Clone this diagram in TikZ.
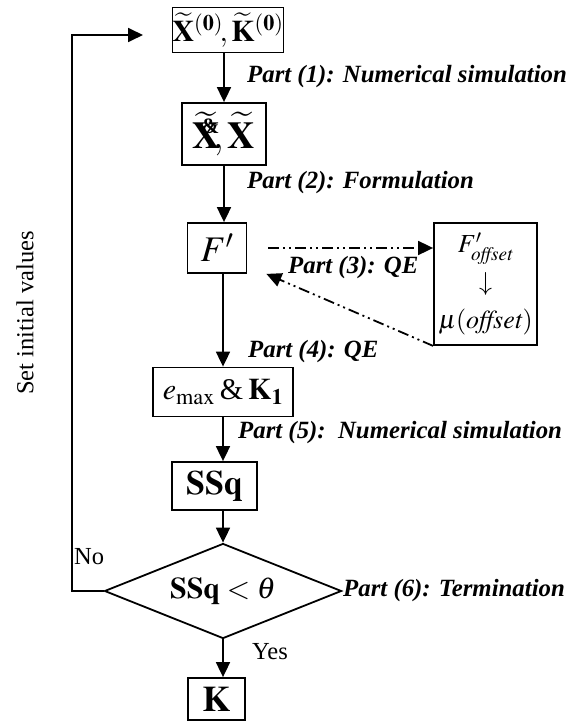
\documentclass[tikz,border=0pt]{standalone}
\usepackage{amsmath,mathptmx}
\usepackage{fontspec}
\setmainfont{Liberation Serif}
\usepackage{tikz}
\usetikzlibrary{arrows.meta,shapes.geometric}

\begin{document}
\begin{tikzpicture}[x=1pt,y=-1pt,
  box/.style={draw,line width=1.8pt,inner sep=0pt},
  flow/.style={line width=1.8pt,-{Triangle[length=15pt,width=14pt]}},
  dashdot/.style={line width=1.8pt,dash pattern=on 11pt off 4pt on 2pt off 4pt on 2pt off 4pt,-{Triangle[length=15pt,width=14pt]}},
  part/.style={anchor=west,inner sep=0pt,font=\fontsize{24.8}{28}\selectfont\bfseries\itshape},
  plain/.style={anchor=west,inner sep=0pt,font=\fontsize{24.5}{28}\selectfont}]
\useasboundingbox (0,0) rectangle (574,722);
% boxes of the flow
\node[box,minimum width=109,minimum height=45,font=\fontsize{30}{34}\selectfont] (init) at (228,30) {$\widetilde{\mathbf{X}}^{\mathbf{(0)}}\!,\widetilde{\mathbf{K}}^{\mathbf{(0)}}$};
\node[box,minimum width=84,minimum height=62,font=\fontsize{38}{42}\selectfont] (sim) at (224,134) {$\widetilde{\mathbf{X}}\mkern-9mu\raisebox{0.4em}{\fontsize{22}{22}\selectfont\bfseries\&}\mkern-3mu,\widetilde{\mathbf{X}}$};
\node[box,minimum width=59,minimum height=50,font=\fontsize{36}{40}\selectfont] (fp) at (217,248) {$F'$};
\node[box,minimum width=103,minimum height=122,align=center,font=\fontsize{26}{38}\selectfont] (off) at (485.5,284) {$F'_{\mathit{offset}}$\\$\downarrow$\\$\mu(\mathit{offset})$};
\node[box,minimum width=140,minimum height=49,font=\fontsize{30}{34}\selectfont] (emax) at (223,392) {$e_{\max}$\,\&\,$\mathbf{K}_{\mathbf{1}}$};
\node[box,minimum width=85,minimum height=48,font=\fontsize{34}{38}\selectfont] (ssq) at (214.5,486) {$\mathbf{SSq}$};
\node[draw,line width=1.8pt,diamond,aspect=2.5,inner sep=0pt,minimum width=237,minimum height=95,font=\fontsize{30}{34}\selectfont] (dec) at (223,591) {$\mathbf{SSq}<\theta$};
\node[box,minimum width=57,minimum height=42,font=\fontsize{36}{40}\selectfont] (res) at (216.5,699) {$\mathbf{K}$};
\coordinate (loopx) at (72,0);
\coordinate (entry) at (143,35);
% connectors
\draw[flow] (init.south -| sim.north) -- (sim.north);
\draw[flow] (sim.south) -- (sim.south |- fp.north);
\draw[flow] (fp.south -| emax.north) -- (emax.north);
\draw[flow] (emax.south) -- (emax.south |- ssq.north);
\draw[flow] (ssq.south -| dec.north) -- (dec.north);
\draw[flow] (dec.south) -- (dec.south |- res.north);
\draw[dashdot] ([xshift=21pt]fp.east) -- (fp.east -| off.west);
\draw[dashdot] (off.south west) -- ([xshift=19pt]fp.south east);
\draw[flow] (dec.west) -- (dec.west -| loopx) |- (entry);
% labels
\node[part] (p1) at (247,77) {Part (1): Numerical simulation};
\node[part] (p2) at (247,183) {Part (2): Formulation};
\node[part] (p3) at (288,268) {Part (3): QE};
\node[part] (p4) at (248,352) {Part (4): QE};
\node[part] (p5) at (238,433) {Part (5):\ \ Numerical simulation};
\node[part] (p6) at (343,591) {Part (6): Termination};
\node[plain] (yes) at (252,652) {Yes};
\node[plain] (no) at (74,557) {No};
\node[plain,anchor=center,rotate=90] (setv) at (25,313) {Set initial values};
\end{tikzpicture}
\end{document}
